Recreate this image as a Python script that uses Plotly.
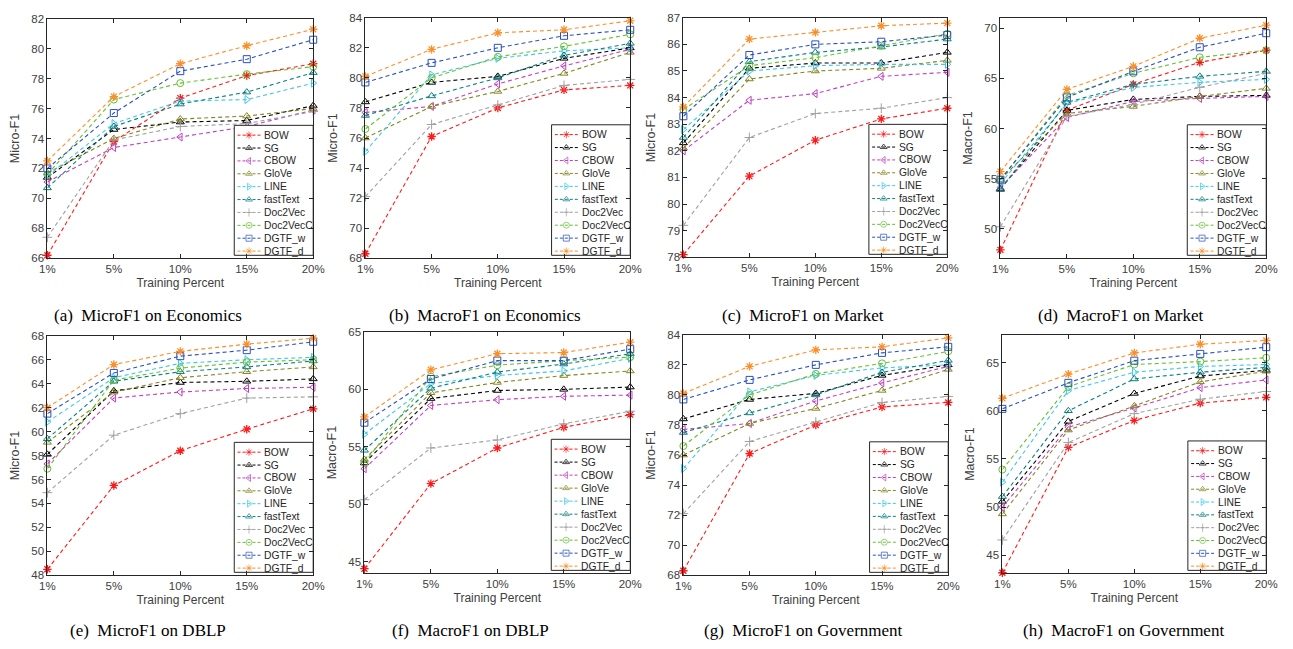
import plotly.graph_objects as go

W, H = 1293, 649

train_labels = ["1%", "5%", "10%", "15%", "20%"]
methods = ["BOW", "SG", "CBOW", "GloVe", "LINE", "fastText",
           "Doc2Vec", "Doc2VecC", "DGTF_w", "DGTF_d"]

econ_micro = {
    "BOW": [66.2, 73.8, 76.7, 78.2, 79.0],
    "SG": [71.4, 74.6, 75.1, 75.2, 76.2],
    "CBOW": [71.1, 73.4, 74.1, 74.8, 75.9],
    "GloVe": [71.7, 74.0, 75.3, 75.5, 76.0],
    "LINE": [71.5, 75.0, 76.5, 76.6, 77.7],
    "fastText": [70.7, 74.8, 76.3, 77.1, 78.4],
    "Doc2Vec": [67.4, 73.9, 74.8, 75.0, 75.8],
    "Doc2VecC": [71.6, 76.6, 77.7, 78.3, 78.8],
    "DGTF_w": [72.0, 75.7, 78.5, 79.3, 80.6],
    "DGTF_d": [72.5, 76.8, 79.0, 80.2, 81.3],
}
econ_macro = {
    "BOW": [68.3, 76.1, 78.0, 79.2, 79.5],
    "SG": [78.4, 79.7, 80.1, 81.3, 82.0],
    "CBOW": [77.7, 78.1, 79.6, 80.8, 81.9],
    "GloVe": [76.0, 78.1, 79.1, 80.3, 81.7],
    "LINE": [75.1, 80.2, 81.3, 81.8, 82.0],
    "fastText": [77.5, 78.8, 80.0, 81.5, 82.3],
    "Doc2Vec": [72.1, 76.9, 78.2, 79.5, 79.9],
    "Doc2VecC": [76.6, 80.0, 81.4, 82.1, 82.9],
    "DGTF_w": [79.7, 81.0, 82.0, 82.8, 83.2],
    "DGTF_d": [80.1, 81.9, 83.0, 83.2, 83.8],
}
market_micro = {
    "BOW": [78.1, 81.05, 82.4, 83.2, 83.6],
    "SG": [82.3, 85.1, 85.3, 85.3, 85.7],
    "CBOW": [82.0, 83.9, 84.15, 84.8, 84.95],
    "GloVe": [82.1, 84.7, 85.0, 85.1, 85.4],
    "LINE": [82.8, 85.0, 85.2, 85.25, 85.25],
    "fastText": [82.5, 85.35, 85.7, 85.9, 86.2],
    "Doc2Vec": [79.2, 82.5, 83.4, 83.6, 84.0],
    "Doc2VecC": [83.55, 85.2, 85.5, 85.95, 86.4],
    "DGTF_w": [83.3, 85.6, 86.0, 86.1, 86.35],
    "DGTF_d": [83.65, 86.2, 86.45, 86.7, 86.8],
}
market_macro = {
    "BOW": [47.9, 61.8, 64.4, 66.6, 67.8],
    "SG": [54.0, 61.8, 62.9, 63.2, 63.3],
    "CBOW": [54.1, 61.1, 62.7, 63.0, 63.2],
    "GloVe": [54.9, 61.5, 62.2, 63.2, 64.0],
    "LINE": [54.5, 62.5, 64.1, 64.6, 64.9],
    "fastText": [53.9, 62.6, 64.4, 65.2, 65.7],
    "Doc2Vec": [50.2, 61.2, 62.4, 64.1, 65.5],
    "Doc2VecC": [54.9, 63.3, 65.5, 67.1, 67.8],
    "DGTF_w": [54.9, 63.1, 65.7, 68.1, 69.5],
    "DGTF_d": [55.7, 63.9, 66.2, 69.0, 70.3],
}
dblp_micro = {
    "BOW": [48.5, 55.5, 58.4, 60.2, 61.9],
    "SG": [58.1, 63.4, 64.1, 64.2, 64.4],
    "CBOW": [57.3, 62.8, 63.3, 63.6, 63.7],
    "GloVe": [59.1, 63.3, 64.5, 65.0, 65.4],
    "LINE": [60.8, 64.5, 65.7, 66.0, 66.2],
    "fastText": [59.4, 64.2, 65.0, 65.4, 65.9],
    "Doc2Vec": [54.9, 59.7, 61.5, 62.8, 62.9],
    "Doc2VecC": [56.9, 64.3, 65.3, 65.8, 66.0],
    "DGTF_w": [61.5, 64.9, 66.3, 66.8, 67.5],
    "DGTF_d": [62.0, 65.6, 66.7, 67.3, 67.8],
}
dblp_macro = {
    "BOW": [44.4, 51.8, 54.9, 56.7, 57.8],
    "SG": [53.6, 59.2, 59.9, 60.0, 60.2],
    "CBOW": [53.1, 58.6, 59.1, 59.4, 59.5],
    "GloVe": [53.9, 59.7, 60.6, 61.2, 61.6],
    "LINE": [56.1, 60.5, 61.2, 61.6, 62.7],
    "fastText": [54.7, 60.1, 61.5, 62.2, 63.1],
    "Doc2Vec": [50.4, 54.9, 55.6, 57.0, 58.1],
    "Doc2VecC": [53.6, 61.1, 62.1, 62.5, 62.8],
    "DGTF_w": [57.1, 60.9, 62.5, 62.5, 63.5],
    "DGTF_d": [57.6, 61.7, 63.1, 63.2, 64.1],
}
gov_micro = {
    "BOW": [68.3, 76.1, 78.0, 79.2, 79.5],
    "SG": [78.4, 79.7, 80.1, 81.3, 82.0],
    "CBOW": [77.7, 78.1, 79.6, 80.8, 81.9],
    "GloVe": [76.0, 78.1, 79.1, 80.3, 81.7],
    "LINE": [75.1, 80.2, 81.3, 81.8, 82.0],
    "fastText": [77.5, 78.8, 80.0, 81.5, 82.3],
    "Doc2Vec": [72.1, 76.9, 78.2, 79.5, 79.9],
    "Doc2VecC": [76.6, 80.0, 81.4, 82.1, 82.9],
    "DGTF_w": [79.7, 81.0, 82.0, 82.8, 83.2],
    "DGTF_d": [80.1, 81.9, 83.0, 83.2, 83.8],
}
gov_macro = {
    "BOW": [43.2, 56.2, 59.0, 60.8, 61.4],
    "SG": [50.6, 58.9, 61.8, 63.6, 64.2],
    "CBOW": [50.0, 58.3, 60.3, 62.4, 63.2],
    "GloVe": [49.3, 58.0, 60.5, 63.0, 64.1],
    "LINE": [52.6, 62.1, 64.0, 64.6, 64.8],
    "fastText": [51.1, 60.0, 63.3, 64.0, 64.5],
    "Doc2Vec": [46.6, 56.7, 59.7, 61.2, 62.0],
    "Doc2VecC": [53.9, 62.5, 64.8, 65.1, 65.5],
    "DGTF_w": [60.2, 62.9, 65.2, 65.9, 66.6],
    "DGTF_d": [61.3, 63.8, 66.0, 66.9, 67.3],
}

colors = {
    "BOW": "#ff1a1a", "SG": "#000000", "CBOW": "#c040c0", "GloVe": "#858522",
    "LINE": "#40c8e8", "fastText": "#0b8080", "Doc2Vec": "#a0a0a0",
    "Doc2VecC": "#66c032", "DGTF_w": "#2850c0", "DGTF_d": "#fb8f2a",
}
symbols = {
    "BOW": "asterisk-open", "SG": "triangle-up-open", "CBOW": "triangle-left-open",
    "GloVe": "triangle-up-open", "LINE": "triangle-right-open",
    "fastText": "triangle-up-open", "Doc2Vec": "cross-thin-open",
    "Doc2VecC": "circle-open", "DGTF_w": "square-open", "DGTF_d": "asterisk-open",
}

# panel layout (pixel boxes of the plotting areas, in page coordinates)
panels = [
    dict(data=econ_micro, ytitle="Micro-F1", yrange=[66, 82], dtick=2,
         cap="(a)\u00a0 MicroF1 on Economics", px=(40, 310), py=(13, 257), cx=142, cy=315),
    dict(data=econ_macro, ytitle="Micro-F1", yrange=[68, 84], dtick=2,
         cap="(b)\u00a0 MacroF1 on Economics", px=(363, 632), py=(12, 257), cx=484, cy=315),
    dict(data=market_micro, ytitle="Micro-F1", yrange=[78, 87], dtick=1,
         cap="(c)\u00a0 MicroF1 on Market", px=(686, 954), py=(12, 256), cx=807, cy=315),
    dict(data=market_macro, ytitle="Macro-F1", yrange=[47.06, 71.04], dtick=5,
         cap="(d)\u00a0 MacroF1 on Market", px=(1008, 1278), py=(12, 257), cx=1130, cy=315),
    dict(data=dblp_micro, ytitle="Micro-F1", yrange=[48, 68], dtick=2,
         cap="(e)\u00a0 MicroF1 on DBLP", px=(40, 310), py=(336, 580), cx=142, cy=636),
    dict(data=dblp_macro, ytitle="Macro-F1", yrange=[44.0, 65], dtick=5,
         cap="(f)\u00a0 MacroF1 on DBLP", px=(362, 632), py=(332, 578), cx=470, cy=636),
    dict(data=gov_micro, ytitle="Micro-F1", yrange=[68, 84], dtick=2,
         cap="(g)\u00a0 MicroF1 on Government", px=(686, 955), py=(335, 580), cx=808, cy=636),
    dict(data=gov_macro, ytitle="Macro-F1", yrange=[43.14, 67.88], dtick=5,
         cap="(h)\u00a0 MacroF1 on Government", px=(1010, 1278), py=(335, 578), cx=1133, cy=636),
]


def paper_x(px):
    return px / W


def paper_y(py):
    return 1 - py / H


AX_COLOR = "#262626"
TXT_COLOR = "#404040"
DASH = "4px,3px"

fig = go.Figure()
layout = dict(width=W, height=H, margin=dict(l=0, r=0, t=0, b=0),
              paper_bgcolor="white", plot_bgcolor="white", showlegend=False,
              font=dict(family="Liberation Sans, Arial, sans-serif", color=TXT_COLOR))
annotations = []
x_idx = list(range(len(train_labels)))

for n, p in enumerate(panels, start=1):
    xs = "" if n == 1 else str(n)
    xref, yref = "x" + xs, "y" + xs
    x0p, x1p = p["px"]
    y0p, y1p = p["py"]
    layout["xaxis" + xs] = dict(
        domain=[paper_x(x0p), paper_x(x1p)], range=[0, len(train_labels) - 1], anchor=yref,
        tickvals=x_idx, ticktext=train_labels, showline=True, mirror="ticks",
        linecolor=AX_COLOR, linewidth=1, ticks="inside", ticklen=4, tickcolor=AX_COLOR,
        showgrid=False, zeroline=False, tickfont=dict(size=11.5, color=TXT_COLOR),
        title=dict(text="Training Percent", font=dict(size=12, color=TXT_COLOR), standoff=4),
    )
    layout["yaxis" + xs] = dict(
        domain=[paper_y(y1p), paper_y(y0p)], range=p["yrange"], anchor=xref,
        dtick=p["dtick"], tick0=0, showline=True, mirror="ticks",
        linecolor=AX_COLOR, linewidth=1, ticks="inside", ticklen=4, tickcolor=AX_COLOR,
        showgrid=False, zeroline=False, tickfont=dict(size=11.5, color=TXT_COLOR),
        title=dict(text=p["ytitle"], font=dict(size=12.5, color=TXT_COLOR), standoff=8),
    )
    # data series
    for m in methods:
        fig.add_trace(go.Scatter(
            x=x_idx, y=p["data"][m], mode="lines+markers", name=m,
            xaxis=xref, yaxis=yref, cliponaxis=False,
            line=dict(color=colors[m], width=1.1, dash=DASH),
            marker=dict(symbol=symbols[m], size=7, color=colors[m],
                        line=dict(color=colors[m], width=1.3 if "asterisk" in symbols[m] else 1)),
        ))

    # legend box (drawn as traces so it covers the lines underneath)
    xr = [0, len(train_labels) - 1]
    yr = p["yrange"]
    pw, ph = x1p - x0p, y1p - y0p

    def fx(px_off):
        return xr[0] + px_off / pw * (xr[1] - xr[0])

    def fy(py_from_bottom):
        return yr[0] + py_from_bottom / ph * (yr[1] - yr[0])

    bl, br = 0.703 * pw, pw
    bb, bt = 3.0, 0.555 * ph
    fig.add_trace(go.Scatter(
        x=[fx(bl), fx(br), fx(br), fx(bl), fx(bl)],
        y=[fy(bb), fy(bb), fy(bt), fy(bt), fy(bb)],
        mode="lines", fill="toself", fillcolor="white",
        line=dict(color=AX_COLOR, width=1), xaxis=xref, yaxis=yref,
        hoverinfo="skip", cliponaxis=False,
    ))
    step = (bt - bb - 14.3) / (len(methods) - 1)
    for i, m in enumerate(methods):
        yy = fy(bt - 10 - i * step)
        fig.add_trace(go.Scatter(
            x=[fx(bl + 3.3), fx(bl + 15), fx(bl + 26.7)], y=[yy, yy, yy],
            mode="lines+markers", xaxis=xref, yaxis=yref, hoverinfo="skip",
            cliponaxis=False,
            line=dict(color=colors[m], width=1, dash="3px,2px"),
            marker=dict(symbol=symbols[m], size=[0, 6, 0], color=colors[m],
                        line=dict(color=colors[m], width=1)),
        ))
        annotations.append(dict(
            x=fx(bl + 28.5), y=yy, xref=xref, yref=yref, text=m, showarrow=False,
            xanchor="left", yanchor="middle",
            font=dict(size=10.3, color=AX_COLOR, family="Liberation Sans, Arial, sans-serif"),
        ))

    annotations.append(dict(
        x=paper_x(p["cx"]), y=paper_y(p["cy"]), xref="paper", yref="paper", text=p["cap"],
        showarrow=False, xanchor="center", yanchor="middle",
        font=dict(size=17, color="#000000", family="Liberation Serif, Times New Roman, serif"),
    ))

layout["annotations"] = annotations
fig.update_layout(**layout)
fig.write_html(
    "out.html",
    config={"displayModeBar": False},
    post_script="document.body.style.margin='0';document.body.style.overflow='hidden';",
)
